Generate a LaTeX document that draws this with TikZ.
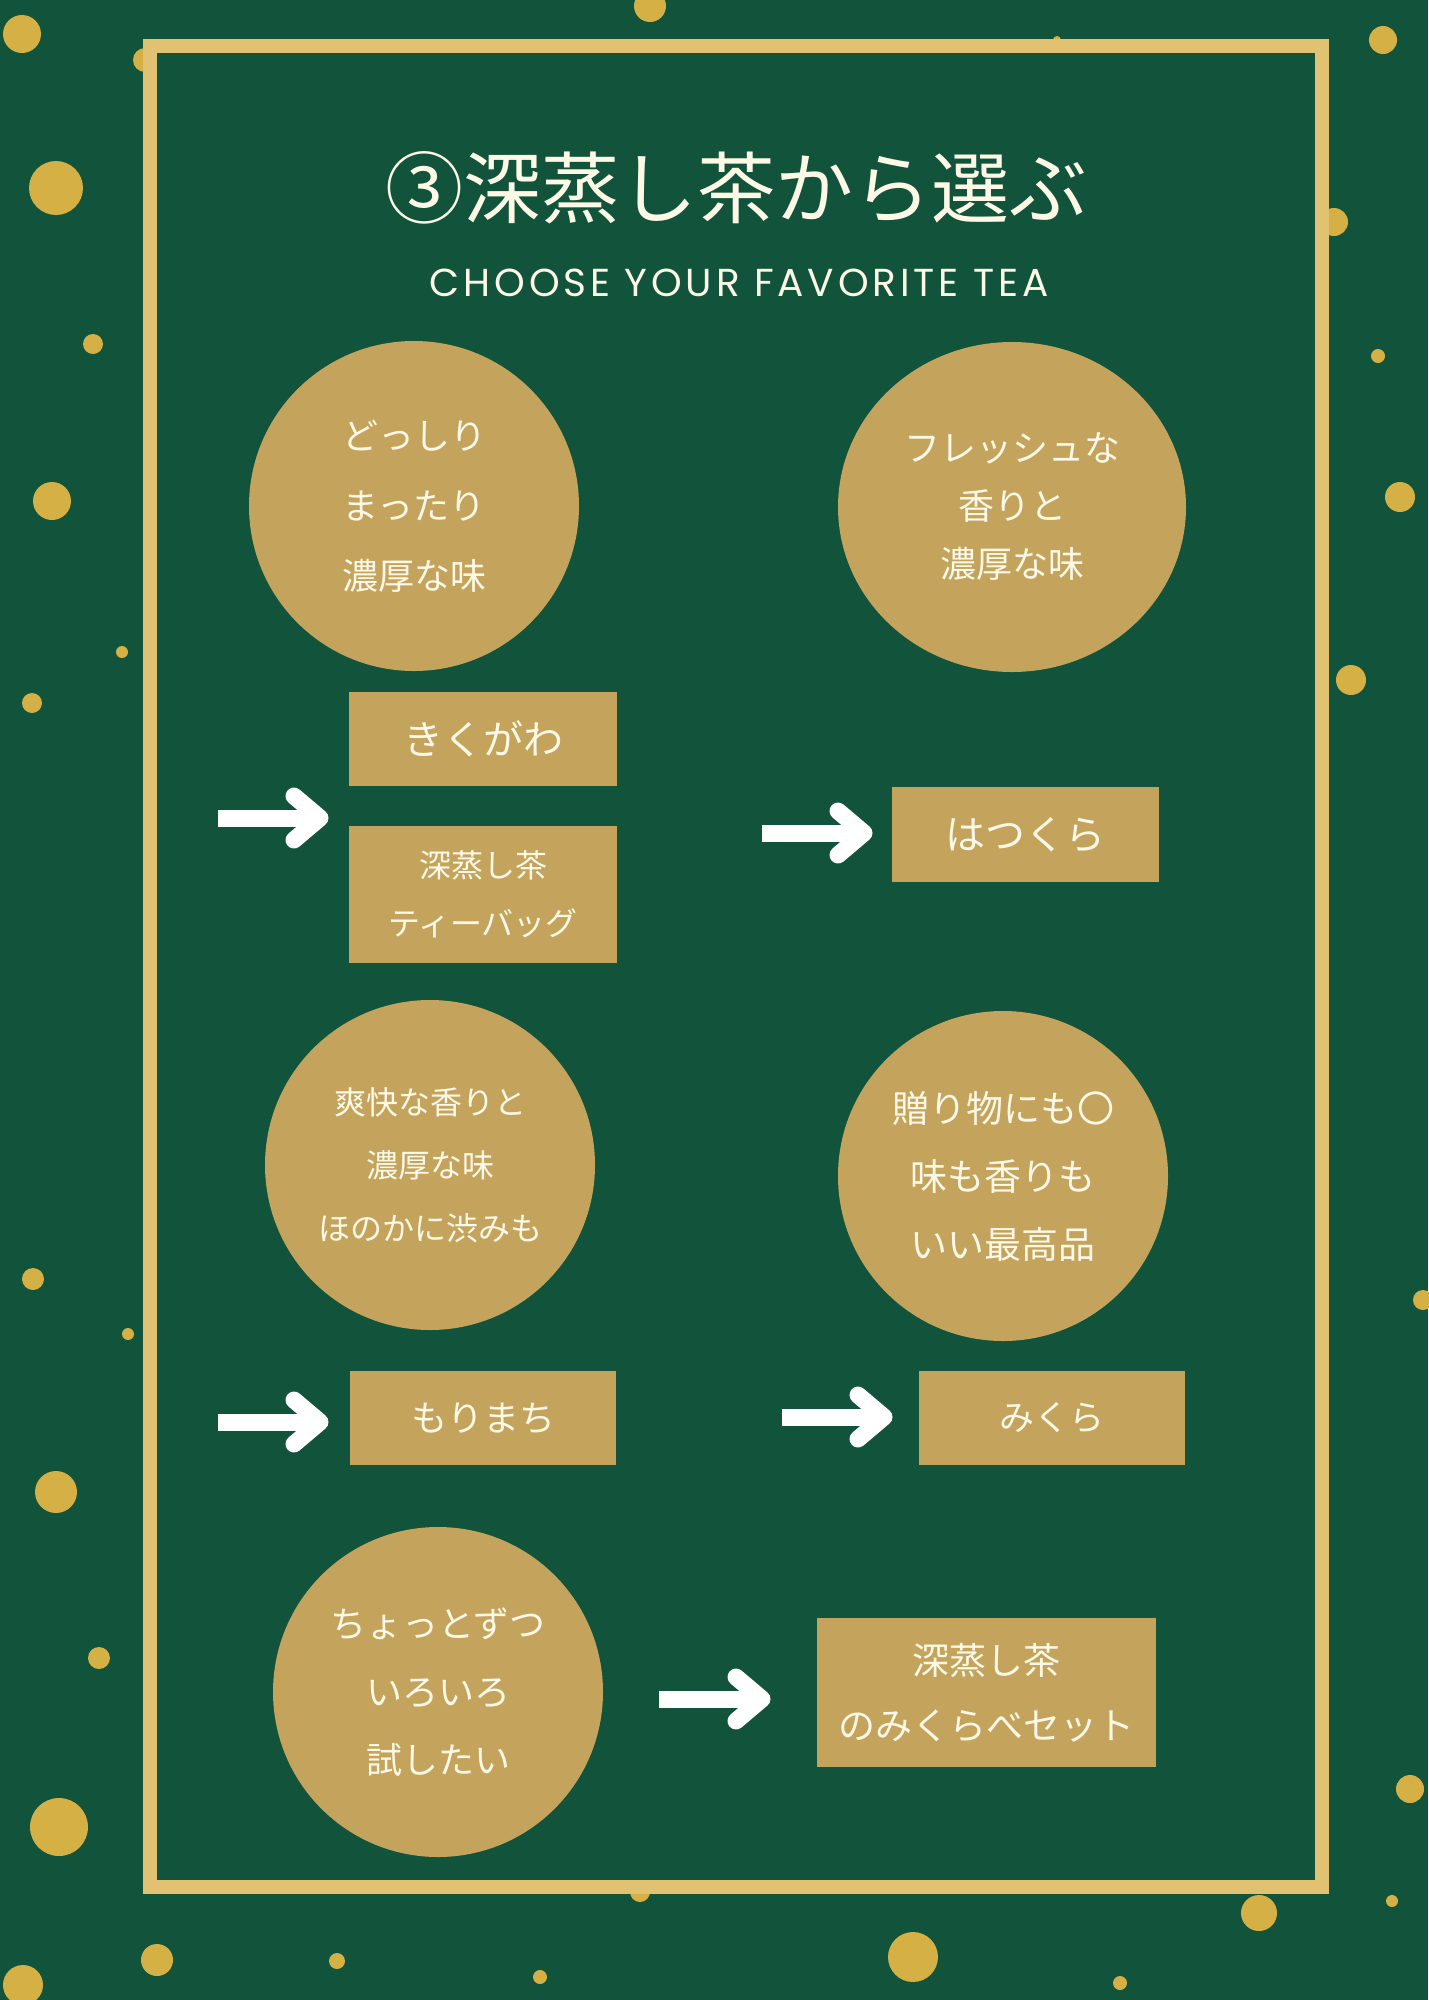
\documentclass[tikz,border=0pt]{standalone}
\usepackage{fontspec}
\newfontfamily\jp{Noto Sans CJK JP}
\newfontfamily\pop{Poppins}
\usetikzlibrary{shapes.geometric}
\definecolor{bggreen}{HTML}{11533B}
\definecolor{teatan}{HTML}{C4A35D}
\definecolor{framegold}{HTML}{E1C272}
\definecolor{dotgold}{HTML}{D5B045}
\definecolor{cream}{HTML}{FDF9E6}
\newcommand\jpf[2]{\jp\fontsize{#1}{#2}\selectfont}
\begin{document}
\begin{tikzpicture}[x=1pt,y=-1pt,
  dot/.style={fill=dotgold},
  circ/.style={circle,fill=teatan,inner sep=0pt,minimum size=330pt,text=cream,align=center},
  oval/.style={ellipse,fill=teatan,inner sep=0pt,minimum width=348pt,minimum height=330pt,text=cream,align=center},
  teabox/.style={rectangle,fill=teatan,inner sep=0pt,text=cream,align=center},
  shaft/.style={draw=white,line width=17pt,line cap=butt},
  head/.style={draw=white,line width=17pt,line cap=round,line join=round}]
\useasboundingbox (0,0) rectangle (1428,2000);
\fill[bggreen] (0,0) rectangle (1428,2000);
% dots
\foreach \x/\y/\r in {22/34/19,56/188/27,93/344/10,52/501/19,122/652/6,32/703/10,33/1279/11,128/1334/6,56/1492/21,99/1658/11,59/1827/29,23/1985/20,157/1960/16,337/1961/8,540/1977/7,913/1957/25,1120/1983/7,1259/1913/18,1392/1901/6,640/1892/10,650/6/16,1383/40/14,1334/222/14,1378/356/7,1400/497/15,1351/680/15,1423/1300/10,1410/1789/14,145/60/12,1057/40/4}
  \fill[dot] (\x,\y) circle[radius=\r];
% panel and frame
\fill[bggreen] (150,45.5) rectangle (1322,1887);
\draw[framegold,line width=14pt] (150,45.5) rectangle (1322,1887);
% title
\node[text=cream,font=\jpf{78}{78}] (title) at (736,188) {③深蒸し茶から選ぶ};
\node[text=cream,font=\pop\fontsize{39}{39}\selectfont\addfontfeatures{LetterSpace=10}] (subtitle) at (739,283) {CHOOSE YOUR FAVORITE TEA};
% circles
\node[circ,font=\jpf{36}{70}] (c1) at (414,506) {どっしり\\まったり\\濃厚な味};
\node[oval,font=\jpf{36}{58}] (c2) at (1012,507) {フレッシュな\\香りと\\濃厚な味};
\node[circ,font=\jpf{32}{63}] (c3) at (430,1165) {爽快な香りと\\濃厚な味\\ほのかに渋みも};
\node[circ,font=\jpf{37}{68}] (c4) at (1003,1176) {贈り物にも〇\\味も香りも\\いい最高品};
\node[circ,font=\jpf{36}{68}] (c5) at (438,1692) {ちょっとずつ\\いろいろ\\試したい};
% boxes
\node[teabox,minimum width=268pt,minimum height=94pt,font=\jpf{40}{40}] (b1) at (483,739) {きくがわ};
\node[teabox,minimum width=268pt,minimum height=137pt,font=\jpf{32}{58}] (b2) at (483,894.5) {深蒸し茶\\ティーバッグ};
\node[teabox,minimum width=267pt,minimum height=95pt,font=\jpf{40}{40}] (b3) at (1025.5,834.5) {はつくら};
\node[teabox,minimum width=266pt,minimum height=94pt,font=\jpf{36}{36}] (b4) at (483,1418) {もりまち};
\node[teabox,minimum width=266pt,minimum height=94pt,font=\jpf{35}{35}] (b5) at (1052,1418) {みくら};
\node[teabox,minimum width=339pt,minimum height=149pt,font=\jpf{37}{65}] (b6) at (986.5,1692.5) {深蒸し茶\\のみくらべセット};
% arrows
\coordinate (a1s) at (218,818); \coordinate (a1e) at (320,818);
\coordinate (a2s) at (762,833); \coordinate (a2e) at (864,833);
\coordinate (a3s) at (218,1422); \coordinate (a3e) at (320,1422);
\coordinate (a4s) at (782,1417); \coordinate (a4e) at (884,1417);
\coordinate (a5s) at (659,1699); \coordinate (a5e) at (762,1699);
\foreach \a in {a1,a2,a3,a4,a5}{
  \draw[shaft] (\a s) -- ([xshift=-4pt]\a e);
  \draw[head] ([shift={(-26,-22)}]\a e) -- (\a e) -- ([shift={(-26,22)}]\a e);
}
\end{tikzpicture}
\end{document}
